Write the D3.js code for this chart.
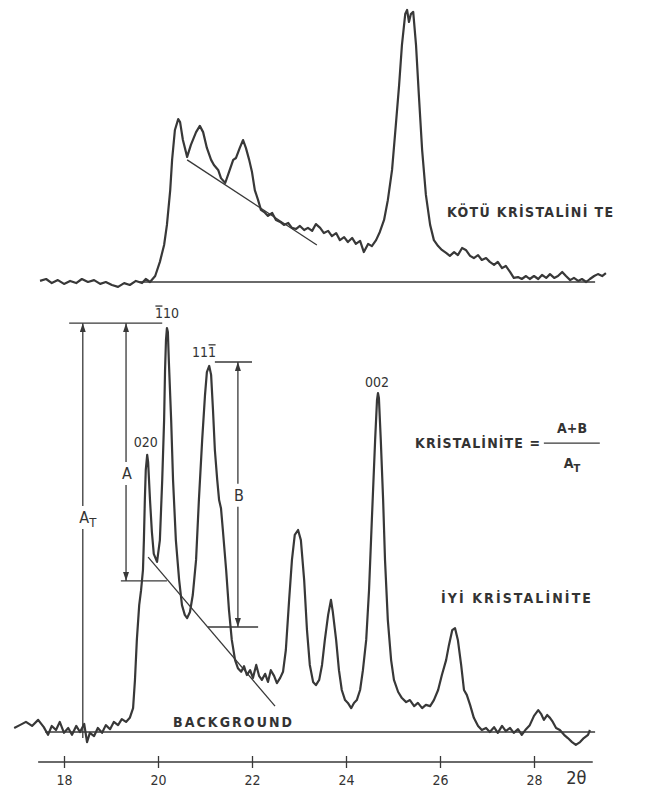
<!DOCTYPE html>
<html lang="tr">
<head>
<meta charset="UTF-8">
<title>Kristalinite</title>
<script src="https://cdn.jsdelivr.net/npm/d3@7"></script>
<style>
  body { margin: 0; background: #fff; }
  text { font-family: "DejaVu Sans Condensed", "DejaVu Sans", sans-serif; fill: #333; }
  .lbl { font-weight: bold; }
</style>
</head>
<body>
<svg></svg>
<script>
const width = 650, height = 790

// üst eğri: kötü kristalinite  [2θ, şiddet]
const poorTrace = [
  [17.49,0.4],[17.62,1.1],[17.74,-0.4],[17.87,0.7],[18.0,-0.7],[18.13,0.4],[18.26,-0.4],[18.38,1.1],
  [18.51,0],[18.64,0.7],[18.77,-0.7],[18.89,0],[19.02,-1.1],[19.15,-1.8],[19.28,-0.4],[19.40,-1.1],
  [19.53,0.4],[19.66,-0.4],[19.74,1.1],[19.83,0],[19.94,2.2],[20.04,7.4],[20.13,13.6],[20.19,21],
  [20.26,33.8],[20.30,44.9],[20.36,55.9],[20.43,59.9],[20.47,58.8],[20.53,52.2],[20.62,46],[20.70,50.4],
  [20.81,55.1],[20.89,57.4],[20.96,55.1],[21.04,49.3],[21.13,44.9],[21.19,43],[21.28,41.2],[21.34,38.2],
  [21.43,36.4],[21.51,40.4],[21.60,44.9],[21.66,45.6],[21.74,49.3],[21.81,52.2],[21.87,49.3],[21.94,44.9],
  [22.0,40.4],[22.06,33.8],[22.13,30.1],[22.19,26.5],[22.26,25.7],[22.34,24.3],[22.43,25.4],[22.51,22.8],
  [22.60,22.1],[22.68,21],[22.77,21.7],[22.85,19.9],[22.94,19.5],[23.02,20.6],[23.11,19.1],[23.19,19.9],
  [23.28,18.8],[23.36,21.3],[23.45,19.9],[23.53,18],[23.62,18.8],[23.70,16.9],[23.79,18],[23.87,15.4],
  [23.96,16.5],[24.04,14.7],[24.13,16.2],[24.21,14],[24.30,15.1],[24.38,11],[24.47,14],[24.55,13.2],
  [24.64,15.4],[24.72,18.4],[24.81,22.8],[24.89,30.1],[24.98,41.2],[25.06,57.7],[25.13,72.4],[25.19,87.1],
  [25.26,98.5],[25.30,100],[25.34,95.6],[25.38,98.5],[25.43,99.3],[25.49,87.1],[25.55,68.8],[25.62,48.5],
  [25.70,32],[25.79,21],[25.87,15.4],[25.96,13.2],[26.04,11.8],[26.13,10.7],[26.21,9.6],[26.30,11],
  [26.38,9.9],[26.47,12.5],[26.55,11.8],[26.64,9.6],[26.72,8.8],[26.81,9.9],[26.89,8.1],[26.98,8.8],
  [27.06,7.4],[27.15,6.3],[27.23,7.4],[27.32,5.1],[27.40,5.9],[27.49,3.7],[27.57,1.5],[27.66,1.8],
  [27.74,1.1],[27.83,2.2],[27.91,1.1],[28.0,2.2],[28.09,1.1],[28.17,2.6],[28.26,1.5],[28.34,2.9],
  [28.43,1.5],[28.51,2.2],[28.60,3.7],[28.68,2.2],[28.77,0.7],[28.85,1.5],[28.94,0.4],[29.02,1.1],
  [29.11,0],[29.19,1.1],[29.28,2.2],[29.36,2.9],[29.45,2.2],[29.53,3.3]
]

// alt eğri: iyi kristalinite  [2θ, şiddet]
const goodTrace = [
  [16.94,1.0],[17.06,1.7],[17.19,2.5],[17.32,1.5],[17.45,3.0],[17.57,1.2],[17.66,-0.7],[17.74,1.5],
  [17.83,0.5],[17.91,2.5],[18.0,-0.2],[18.09,1.0],[18.17,-0.7],[18.26,1.5],[18.34,0],[18.43,2.0],
  [18.49,-2.5],[18.55,-0.2],[18.64,-1.0],[18.72,1.0],[18.81,-0.2],[18.89,1.7],[18.98,0.7],[19.06,2.5],
  [19.15,1.7],[19.23,3.2],[19.32,2.5],[19.40,3.5],[19.47,5.9],[19.51,12.9],[19.55,22.8],[19.60,31.4],
  [19.64,35.1],[19.68,40.1],[19.70,47.5],[19.72,57.4],[19.74,64.9],[19.77,68.6],[19.79,66.8],[19.83,57.4],
  [19.87,49.5],[19.91,44.1],[19.98,42.1],[20.04,47.5],[20.09,62.4],[20.13,77.2],[20.15,89.6],[20.17,97.0],
  [20.19,100],[20.21,99],[20.23,92.1],[20.28,77.2],[20.32,62.4],[20.38,47.5],[20.45,37.6],[20.51,31.4],
  [20.57,29.0],[20.62,28.2],[20.68,29.7],[20.74,33.9],[20.81,42.6],[20.87,57.4],[20.94,72.3],[21.0,83.4],
  [21.04,89.1],[21.09,90.6],[21.13,88.4],[21.17,79.7],[21.21,69.8],[21.26,62.4],[21.30,57.4],[21.34,55.4],
  [21.38,50.0],[21.45,40.1],[21.51,30.2],[21.57,22.8],[21.64,17.8],[21.70,15.8],[21.77,14.9],[21.83,16.3],
  [21.89,14.1],[21.96,15.3],[22.02,13.4],[22.09,16.6],[22.15,13.9],[22.21,12.9],[22.28,14.4],[22.34,12.4],
  [22.40,15.3],[22.47,13.9],[22.53,12.1],[22.60,13.4],[22.66,14.9],[22.72,20.3],[22.79,32.7],[22.85,42.6],
  [22.91,48.8],[22.98,50.0],[23.04,47.5],[23.11,37.6],[23.17,25.2],[23.23,16.6],[23.30,12.4],[23.36,11.6],
  [23.43,12.9],[23.49,16.6],[23.55,22.8],[23.62,29.0],[23.68,32.7],[23.72,29.7],[23.79,22.8],[23.85,15.3],
  [23.91,10.4],[23.98,7.9],[24.04,7.2],[24.11,5.9],[24.17,7.2],[24.23,7.9],[24.30,10.4],[24.36,15.3],
  [24.43,22.8],[24.49,35.1],[24.55,52.5],[24.62,72.3],[24.66,82.2],[24.68,83.9],[24.70,82.7],[24.74,72.3],
  [24.79,57.4],[24.83,42.6],[24.89,27.7],[24.96,17.8],[25.02,12.9],[25.11,9.9],[25.19,8.4],[25.28,7.4],
  [25.36,7.9],[25.45,6.4],[25.53,7.2],[25.62,5.9],[25.70,6.7],[25.79,6.4],[25.87,7.9],[25.96,10.4],
  [26.04,14.1],[26.13,17.8],[26.19,21.5],[26.26,25.2],[26.32,25.7],[26.38,22.8],[26.45,16.6],[26.51,10.4],
  [26.57,9.2],[26.64,6.7],[26.72,3.5],[26.81,1.5],[26.89,0.5],[26.98,1.0],[27.06,0],[27.15,1.2],
  [27.23,-0.2],[27.32,1.5],[27.40,0.2],[27.49,1.0],[27.57,-0.2],[27.66,0.7],[27.74,-0.7],[27.83,0.7],
  [27.91,1.7],[28.0,4.0],[28.09,5.4],[28.15,4.5],[28.21,3.0],[28.28,4.2],[28.34,3.5],[28.40,2.5],
  [28.47,1.0],[28.55,0.5],[28.64,-0.7],[28.72,-1.5],[28.81,-2.5],[28.89,-3.2],[28.98,-2.5],[29.06,-1.5],
  [29.15,-0.7],[29.19,0.5]
]

const ticks2theta = [18, 20, 22, 24, 26, 28]
const axisExtent = [17.45, 29.25]

const poorBaseline = [[19.6, 0], [29.3, 0]]
const poorTangent = [[20.62, 44.9], [23.38, 13.6]]
const goodBackground = [[17.6, 0], [29.3, 0]]
const goodTangent = [[19.79, 43.3], [22.49, 6.4]]

// pik etiketleri: [2θ, şiddet, metin, çizgili rakam sırası]
const peakLabels = [
  [20.19, 103.7, '110', 0],
  [20.98, 94.1, '111', 2],
  [19.74, 71.8, '020', -1],
  [24.66, 86.6, '002', -1]
]

// ölçü okları: [2θ, üst, alt, etiket, alt indis, etiket şiddeti, alt ok]
const measures = [
  [18.40, 101.2, -1.5, 'A', 'T', 53.2, false],
  [19.32, 101.2, 37.4, 'A', '', 64.1, true],
  [21.70, 91.6, 26.0, 'B', '', 58.7, true]
]
// yatay referans çizgileri: [2θ başlangıç, 2θ bitiş, şiddet]
const refLines = [
  [18.11, 20.09, 101.2],
  [19.21, 20.19, 37.4],
  [21.21, 22.0, 91.6],
  [21.06, 22.13, 26.0]
]

const ink = '#383838'

const svg = d3.select('svg')
    .attr('width', width)
    .attr('height', height)
    .attr('viewBox', [0, 0, width, height])

svg.append('defs').append('marker')
    .attr('id', 'arrow')
    .attr('viewBox', '0 0 9 6')
    .attr('refX', 9).attr('refY', 3)
    .attr('markerWidth', 9).attr('markerHeight', 6)
    .attr('markerUnits', 'userSpaceOnUse')
    .attr('orient', 'auto-start-reverse')
  .append('path')
    .attr('d', 'M0,0 L9,3 L0,6 Z')
    .attr('fill', ink)

const x = d3.scaleLinear().domain([18, 28]).range([64, 534])
const yTop = d3.scaleLinear().domain([0, 100]).range([282, 10])
const yBot = d3.scaleLinear().domain([0, 100]).range([732, 328])

const lineTop = d3.line().x(d => x(d[0])).y(d => yTop(d[1]))
const lineBot = d3.line().x(d => x(d[0])).y(d => yBot(d[1]))

// düz çizgiler
svg.append('path').attr('d', lineTop(poorBaseline)).attr('stroke', ink).attr('stroke-width', 1.3).attr('fill', 'none')
svg.append('path').attr('d', lineTop(poorTangent)).attr('stroke', ink).attr('stroke-width', 1.3).attr('fill', 'none')
svg.append('path').attr('d', lineBot(goodBackground)).attr('stroke', ink).attr('stroke-width', 1.3).attr('fill', 'none')
svg.append('path').attr('d', lineBot(goodTangent)).attr('stroke', ink).attr('stroke-width', 1.3).attr('fill', 'none')

// eğriler
svg.append('path')
    .attr('d', lineTop(poorTrace))
    .attr('fill', 'none').attr('stroke', ink)
    .attr('stroke-width', 2.2).attr('stroke-linejoin', 'round')
svg.append('path')
    .attr('d', lineBot(goodTrace))
    .attr('fill', 'none').attr('stroke', ink)
    .attr('stroke-width', 2.2).attr('stroke-linejoin', 'round')

// referans çizgileri
svg.selectAll('.ref')
  .data(refLines)
  .join('line')
    .attr('x1', d => x(d[0])).attr('x2', d => x(d[1]))
    .attr('y1', d => yBot(d[2])).attr('y2', d => yBot(d[2]))
    .attr('stroke', ink).attr('stroke-width', 1.4)

// ölçü okları (etiket için boşluk bırakılır)
measures.forEach(m => {
  const [t, top, bottom, label, sub, li, arrowDown] = m
  const cx = x(t), ly = yBot(li)
  svg.append('line')
      .attr('x1', cx).attr('x2', cx)
      .attr('y1', yBot(top)).attr('y2', ly - 11)
      .attr('stroke', ink).attr('stroke-width', 1.3)
      .attr('marker-start', 'url(#arrow)')
  svg.append('line')
      .attr('x1', cx).attr('x2', cx)
      .attr('y1', ly + 12).attr('y2', yBot(bottom))
      .attr('stroke', ink).attr('stroke-width', 1.3)
      .attr('marker-end', arrowDown ? 'url(#arrow)' : null)
  const tx = svg.append('text')
      .attr('x', cx + (sub ? 5 : 1)).attr('y', ly + 6)
      .attr('text-anchor', 'middle')
      .attr('font-size', 16)
      .text(label)
  if (sub) tx.append('tspan').attr('dy', 4).attr('font-size', 13).text(sub)
})

// pik etiketleri
peakLabels.forEach(p => {
  const [t, i, txt, bar] = p
  const el = svg.append('text')
      .attr('x', x(t)).attr('y', yBot(i) + 5)
      .attr('text-anchor', 'middle')
      .attr('font-size', 14)
      .text(txt)
  if (bar >= 0) {
    const b = el.node().getExtentOfChar(bar)
    svg.append('line')
        .attr('x1', b.x + 0.5).attr('x2', b.x + b.width - 0.5)
        .attr('y1', b.y + 1).attr('y2', b.y + 1)
        .attr('stroke', ink).attr('stroke-width', 1.3)
  }
})

// eksen
const axisG = svg.append('g')
    .attr('transform', 'translate(0,762)')
    .call(d3.axisBottom(x).tickValues(ticks2theta).tickSize(5).tickPadding(8).tickFormat(d3.format('d')))
axisG.select('.domain').remove()
axisG.append('line')
    .attr('x1', x(axisExtent[0])).attr('x2', x(axisExtent[1]))
    .attr('stroke', ink).attr('stroke-width', 1.6)
axisG.selectAll('.tick line').attr('y1', -6).attr('y2', 6).attr('stroke', ink).attr('stroke-width', 1.3)
axisG.selectAll('.tick text')
    .attr('font-size', 14)
    .attr('font-family', '"DejaVu Sans Condensed", "DejaVu Sans", sans-serif')
    .attr('fill', ink)
axisG.append('text')
    .attr('x', x(28.9)).attr('y', 22)
    .attr('text-anchor', 'middle')
    .attr('font-size', 18)
    .text('2θ')

// yazılar
svg.append('text').attr('class', 'lbl')
    .attr('x', x(26.15)).attr('y', yTop(25.7) + 5)
    .attr('font-size', 14)
    .attr('textLength', 166).attr('lengthAdjust', 'spacing')
    .text('KÖTÜ  KRİSTALİNİ TE')

svg.append('text').attr('class', 'lbl')
    .attr('x', x(26.02)).attr('y', yBot(33.2) + 5)
    .attr('font-size', 14)
    .attr('textLength', 150).attr('lengthAdjust', 'spacing')
    .text('İYİ KRİSTALİNİTE')

svg.append('text').attr('class', 'lbl')
    .attr('x', x(20.32)).attr('y', yBot(2.5) + 5)
    .attr('font-size', 14)
    .attr('textLength', 119).attr('lengthAdjust', 'spacing')
    .text('BACKGROUND')

// formül
svg.append('text').attr('class', 'lbl')
    .attr('x', x(25.47)).attr('y', yBot(71.5) + 5)
    .attr('font-size', 14)
    .attr('textLength', 125).attr('lengthAdjust', 'spacing')
    .text('KRİSTALİNİTE =')
svg.append('line')
    .attr('x1', x(28.21)).attr('x2', x(29.40))
    .attr('y1', yBot(71.5)).attr('y2', yBot(71.5))
    .attr('stroke', ink).attr('stroke-width', 1.4)
svg.append('text').attr('class', 'lbl')
    .attr('x', x(28.81)).attr('y', yBot(75.2) + 5)
    .attr('text-anchor', 'middle')
    .attr('font-size', 14)
    .text('A+B')
const at = svg.append('text').attr('class', 'lbl')
    .attr('x', x(28.81)).attr('y', yBot(66.8) + 6)
    .attr('text-anchor', 'middle')
    .attr('font-size', 14)
    .text('A')
at.append('tspan').attr('dy', 4).attr('font-size', 11).text('T')
</script>
</body>
</html>
